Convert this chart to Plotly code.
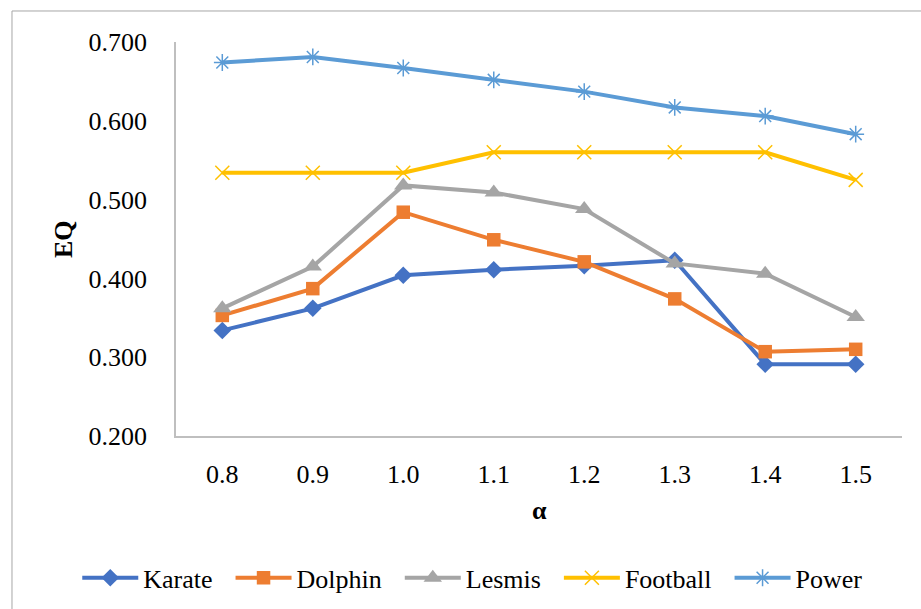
import plotly.graph_objects as go

alpha = ["0.8", "0.9", "1.0", "1.1", "1.2", "1.3", "1.4", "1.5"]
karate = [0.334, 0.362, 0.404, 0.411, 0.416, 0.423, 0.291, 0.291]
dolphin = [0.353, 0.387, 0.484, 0.449, 0.421, 0.374, 0.307, 0.310]
lesmis = [0.362, 0.415, 0.518, 0.509, 0.488, 0.419, 0.406, 0.351]
football = [0.534, 0.534, 0.534, 0.560, 0.560, 0.560, 0.560, 0.525]
power = [0.674, 0.681, 0.667, 0.652, 0.637, 0.617, 0.606, 0.583]
y_ticks = [0.2, 0.3, 0.4, 0.5, 0.6, 0.7]
y_ticklabels = ["0.200", "0.300", "0.400", "0.500", "0.600", "0.700"]

series = [
    ("Karate", karate, "#4472C4", "diamond", 13.5, 0),
    ("Dolphin", dolphin, "#ED7D31", "square", 13.5, 0),
    ("Lesmis", lesmis, "#A5A5A5", "triangle-up", 16, 0),
    ("Football", football, "#FFC000", "x-thin-open", 14, 1.5),
    ("Power", power, "#5B9BD5", "asterisk-open", 14, 1.5),
]

FONT = '"Liberation Serif", "Times New Roman", serif'
FS = 26
PAD = "\u00a0\u00a0"

fig = go.Figure()
for i, (name, vals, color, sym, size, mlw) in enumerate(series):
    marker = dict(symbol=sym, size=size, color=color)
    if mlw:
        marker["line"] = dict(color=color, width=mlw)
    else:
        marker["line"] = dict(width=0)
    label = name + (PAD if i < len(series) - 1 else "")
    fig.add_trace(go.Scatter(
        x=alpha, y=vals, name=label, mode="lines+markers",
        line=dict(color=color, width=4),
        marker=marker,
    ))

fig.update_layout(
    width=921, height=609,
    margin=dict(l=176, r=19, t=42, b=173, autoexpand=False),
    paper_bgcolor="white", plot_bgcolor="white",
    font=dict(family=FONT, size=FS, color="black"),
    showlegend=True,
    legend=dict(orientation="h", x=-0.136, xanchor="left", y=-0.36, yanchor="middle",
                font=dict(family=FONT, size=FS), itemwidth=56, tracegroupgap=0,
                bgcolor="rgba(0,0,0,0)"),
    xaxis=dict(type="category", showgrid=False, zeroline=False, showline=True,
               linecolor="#BFBFBF", linewidth=1.5, ticks="", ticklabelstandoff=14,
               tickfont=dict(family=FONT, size=FS), fixedrange=True),
    yaxis=dict(range=[0.2, 0.7], tickvals=y_ticks, ticktext=y_ticklabels,
               showgrid=False, zeroline=False, showline=True,
               linecolor="#BFBFBF", linewidth=1.5, ticks="", ticklabelstandoff=22,
               tickfont=dict(family=FONT, size=FS), fixedrange=True),
    annotations=[
        dict(text="<b>EQ</b>", xref="paper", yref="paper", x=-0.1556, y=0.5,
             xanchor="center", yanchor="middle", textangle=-90, showarrow=False,
             font=dict(family=FONT, size=FS)),
        dict(text="<b>α</b>", xref="paper", yref="paper", x=0.5, y=-0.19,
             xanchor="center", yanchor="middle", showarrow=False,
             font=dict(family=FONT, size=FS)),
    ],
    shapes=[
        dict(type="rect", xref="paper", yref="paper", x0=-0.2259, x1=1.5,
             y0=-1.0, y1=1.0787, line=dict(color="#A6A6A6", width=1),
             fillcolor="rgba(0,0,0,0)", layer="below"),
    ],
)

fig.write_html("out.html", config={"displayModeBar": False},
               post_script="document.body.style.margin='0';")
